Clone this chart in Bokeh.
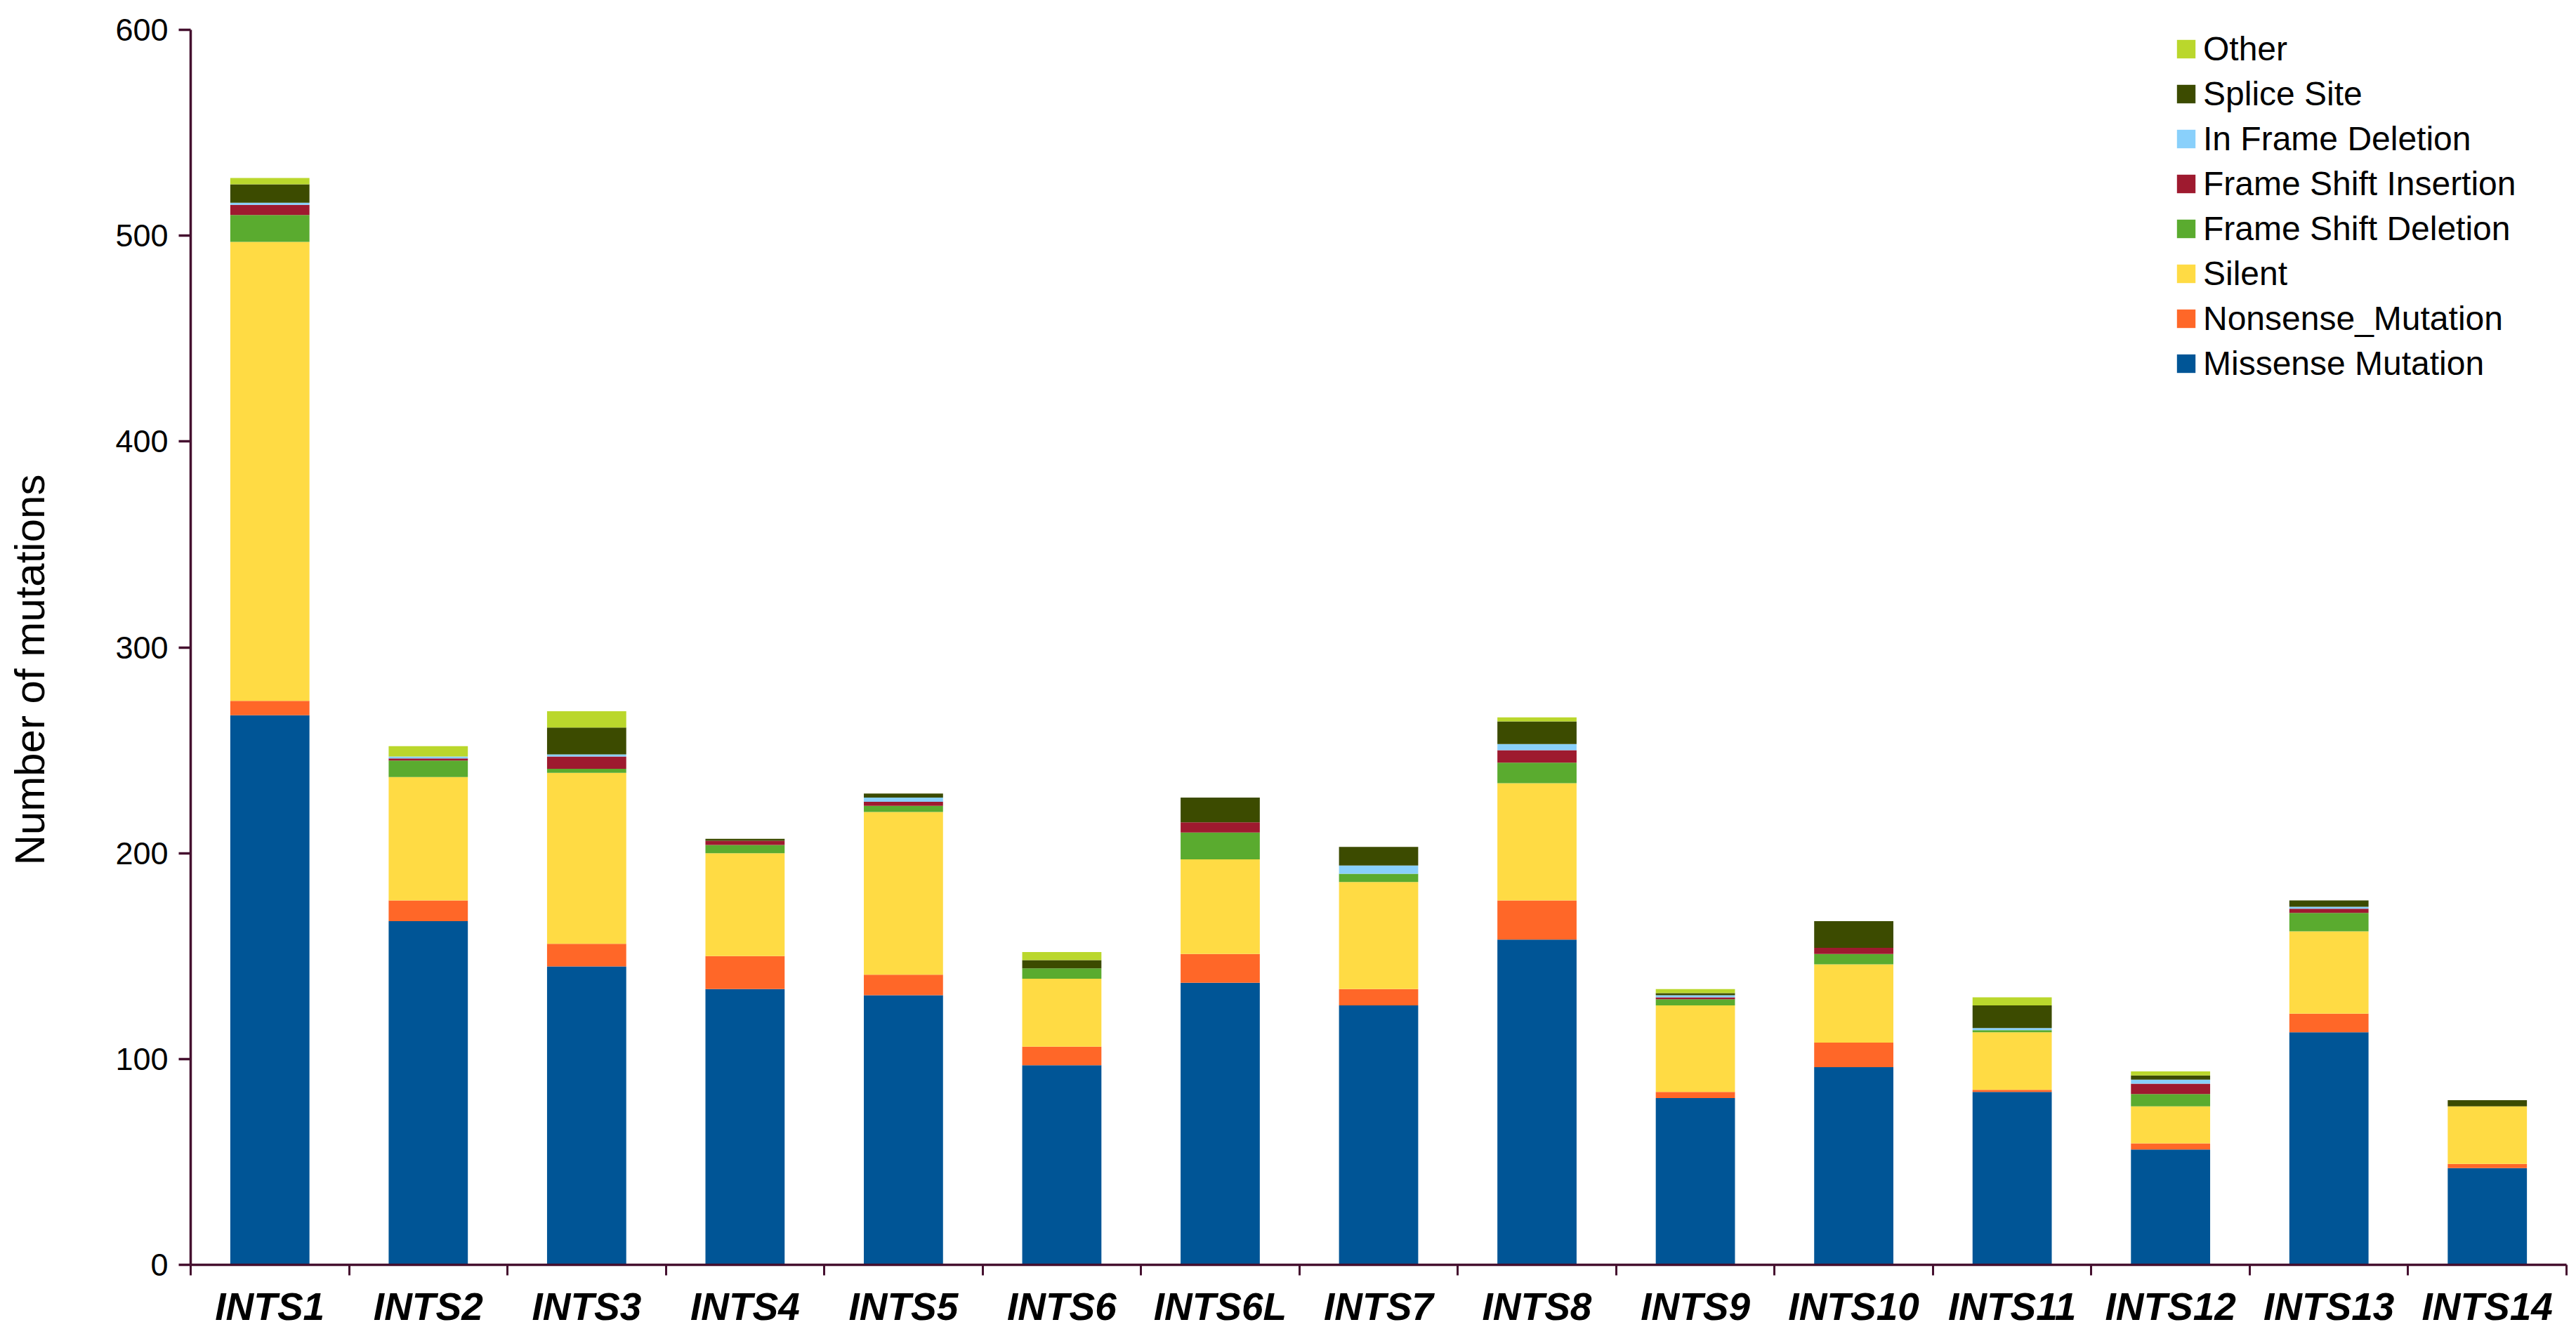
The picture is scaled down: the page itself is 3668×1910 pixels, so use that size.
from bokeh.plotting import figure
from bokeh.models import (ColumnDataSource, Range1d, FixedTicker, Legend, LegendItem, Title,
                          LinearAxis)
from bokeh.embed import file_html
from bokeh.resources import INLINE

genes = ["INTS1", "INTS2", "INTS3", "INTS4", "INTS5", "INTS6", "INTS6L", "INTS7",
         "INTS8", "INTS9", "INTS10", "INTS11", "INTS12", "INTS13", "INTS14"]

missense = [267, 167, 145, 134, 131, 97, 137, 126, 158, 81, 96, 84, 56, 113, 47]
nonsense = [7, 10, 11, 16, 10, 9, 14, 8, 19, 3, 12, 1, 3, 9, 2]
silent = [223, 60, 83, 50, 79, 33, 46, 52, 57, 42, 38, 28, 18, 40, 28]
frame_shift_del = [13, 8, 2, 4, 3, 5, 13, 4, 10, 3, 5, 1, 6, 9, 0]
frame_shift_ins = [5, 1, 6, 2, 2, 0, 5, 0, 6, 1, 3, 0, 5, 2, 0]
in_frame_del = [1, 1, 1, 0, 2, 0, 0, 4, 3, 1, 0, 1, 2, 1, 0]
splice_site = [9, 0, 13, 1, 2, 4, 12, 9, 11, 1, 13, 11, 2, 3, 3]
other = [3, 5, 8, 0, 0, 4, 0, 0, 2, 2, 0, 4, 2, 0, 0]

series_names = ["Missense Mutation", "Nonsense_Mutation", "Silent", "Frame Shift Deletion",
                "Frame Shift Insertion", "In Frame Deletion", "Splice Site", "Other"]
series_values = [missense, nonsense, silent, frame_shift_del, frame_shift_ins,
                 in_frame_del, splice_site, other]
colors = ["#005596", "#ff6728", "#ffdb44", "#5aab2f", "#9e1a2f", "#89d0fb", "#3c4b00", "#bad72c"]

y_ticks = [0, 100, 200, 300, 400, 500, 600]
y_title = "Number of mutations"

centers = [i + 0.5 for i in range(len(genes))]
boundaries = list(range(len(genes) + 1))

keys = ["s%d" % i for i in range(len(series_names))]
data = {"x": centers}
for k, vals in zip(keys, series_values):
    data[k] = vals
source = ColumnDataSource(data)

AX = "#45102f"
FONT = "Liberation Sans"

p = figure(width=3660, height=1894, output_backend="svg", toolbar_location=None,
           x_range=Range1d(0, len(genes)), y_range=Range1d(0, 600),
           min_border_left=271, min_border_right=6, min_border_top=42, min_border_bottom=93)
p.outline_line_color = None
p.grid.visible = False
p.background_fill_color = "white"

renderers = p.vbar_stack(keys, x="x", width=0.5, color=colors, line_color=None, source=source)

# x axis
xa = p.xaxis[0]
xa.ticker = FixedTicker(ticks=centers, minor_ticks=boundaries)
xa.major_label_overrides = {c: g for c, g in zip(centers, genes)}
xa.major_tick_in = 0
xa.major_tick_out = 0
xa.minor_tick_in = 0
xa.minor_tick_out = 15
xa.minor_tick_line_color = AX
xa.minor_tick_line_width = 3
xa.axis_line_color = AX
xa.axis_line_width = 3.5
xa.major_label_text_font = FONT
xa.major_label_text_font_size = "55px"
xa.major_label_text_font_style = "bold italic"
xa.major_label_text_color = "black"
xa.major_label_standoff = 13

# y axis
ya = p.yaxis[0]
ya.ticker = FixedTicker(ticks=y_ticks)
ya.minor_tick_line_color = None
ya.major_tick_in = 0
ya.major_tick_out = 17
ya.major_tick_line_color = AX
ya.major_tick_line_width = 3.5
ya.axis_line_color = AX
ya.axis_line_width = 3.5
ya.major_label_text_font = FONT
ya.major_label_text_font_size = "45px"
ya.major_label_text_color = "black"
ya.major_label_standoff = 15

# blank spacer between the tick labels and the y title (white tick, empty label)
spacer = LinearAxis(ticker=FixedTicker(ticks=[y_ticks[3]]), axis_line_color=None,
                    major_tick_in=0, major_tick_out=77, major_tick_line_color="white",
                    minor_tick_line_color=None, major_label_standoff=0,
                    major_label_overrides={y_ticks[3]: ""})
p.add_layout(spacer, "left")

# y axis title, starting a little below the frame centre as in the original
p.add_layout(Title(text=y_title, align="left", vertical_align="top", offset=569, standoff=14,
                   text_font=FONT, text_font_size="60px", text_font_style="normal",
                   text_color="black"), "left")

items = [LegendItem(label=n, renderers=[r]) for n, r in zip(series_names, renderers)][::-1]
legend = Legend(items=items, location=(2825, 1256), orientation="vertical",
                glyph_width=33, glyph_height=33, label_height=33, spacing=9,
                padding=0, margin=0, label_standoff=8,
                label_text_font=FONT, label_text_font_size="48px", label_text_color="black",
                border_line_color=None, background_fill_alpha=0)
p.add_layout(legend)

open("out.html", "w").write(file_html(p, INLINE))
